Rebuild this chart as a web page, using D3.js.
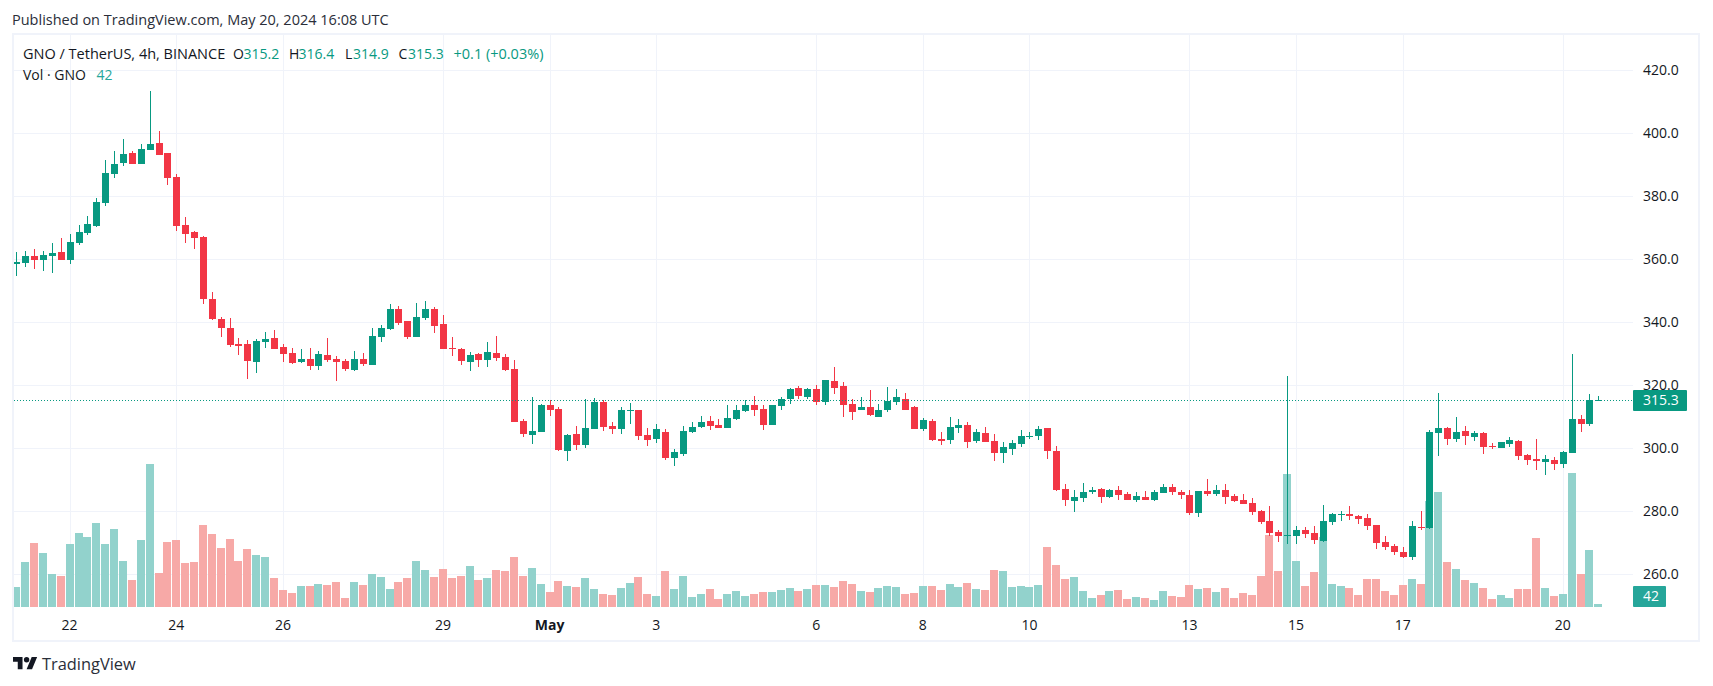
<!DOCTYPE html>
<html><head><meta charset="utf-8"><script src="https://cdn.jsdelivr.net/npm/d3@7/dist/d3.min.js"></script>
<style>html,body{margin:0;padding:0;background:#fff}svg{display:block}text{font-family:"Open Sans","Lato",sans-serif}</style></head>
<body><div id="c"></div>
<script>
const opens=[358.5,358.8,361.1,359.8,361.1,362.3,359.8,365.2,368.4,370.6,377.9,387.1,390.6,393.8,390.3,394.7,396.9,393.8,386.1,370.9,368.7,367.1,347.4,341.0,338.2,333.1,333.1,327.4,333.8,335,332.2,330.3,327.4,328.4,326.1,329.6,328.4,327.7,324.9,328.4,326.5,335.3,337.9,344.2,340.4,335.3,341.4,344.2,339.5,331.9,331.5,327.4,329.9,328,330.3,329,325.2,308.7,304.2,305.2,313.8,312.5,299.2,304.6,301.1,306.1,314.7,307.1,306.1,311.9,312.2,304.2,303,305.2,296.9,298.2,305.2,306.8,308.7,307.4,306.5,309.3,311.9,313.8,312.5,307.4,313.4,315.7,319.2,316.3,318.8,314.7,321.4,319.8,314.1,312,313,310,312,314.7,315.7,313,306.1,308.7,303,302.6,306.5,307.4,302.3,304.9,302.3,298.5,299.8,301.4,303.6,303.9,306.5,299,287.1,283.3,284.2,286.1,287.1,284.6,286.8,285.5,283.6,284.6,283.6,285.8,287.7,286.1,285.2,279.5,286.5,285.5,286.8,284.9,283.6,282.6,280.1,276.9,273.4,272.2,272.2,274.1,273.1,270.6,276.6,278.8,279.2,278.5,277.9,275.7,270.3,269,267.1,265.5,275,274.7,304.9,306.5,303,305.5,303.6,304.9,300.7,300.1,301.4,302.3,297.9,296.6,295.7,296.3,295,298.5,309.3,307.7,315.2];
const closes=[359.2,361.1,359.8,361.4,362,359.8,365.5,368.7,371.2,378.2,387.4,390.3,393.4,390.3,395,396.6,393.1,385.8,370.6,368,366.8,347.4,341.1,338,332.8,332.5,327.7,334.1,334.7,331.5,329.9,327.1,328.4,326.1,329.9,328,327.4,325.2,328.4,326.8,335.7,338.2,344.2,339.8,335.3,341.7,344.2,338.8,331.5,331.5,327.7,329.6,328,330.6,328.7,324.9,308.4,304.6,305.5,313.8,312.2,299.5,304.2,301.1,306.5,314.7,306.8,306.1,312.2,312.2,303.9,302.6,306.1,296.9,298.8,305.5,306.8,308.4,307.1,306.5,309.6,312.2,313.8,312.2,307.4,313.8,315.7,318.8,316.6,318.8,314.7,321.7,319.2,313.8,311.5,313,310.6,312.2,315,316.3,312,306.1,309,302.6,302.3,306.8,307.4,302,305.2,302,298.5,300.4,301.7,303.9,303.9,306.1,299.2,286.7,283.6,284.6,286.1,286.8,284.6,286.8,285.2,283.6,284.9,283.6,286.1,287.7,286.1,285.2,279.5,286.5,285.5,286.8,284.6,283.3,282.3,279.8,276.6,273.1,272.2,272.5,274.1,272.8,270.9,276.9,279.2,279.2,278.5,277.6,275.3,270,268.7,267.1,265.5,275.3,274.7,305.2,306.5,303,305.2,303.9,304.9,300.4,300.4,302,302.6,297.6,296.3,296,296.6,295,298.8,309.3,307.7,315.3,315.3];
const highs=[362.3,362.6,363.3,362.6,365.2,366.8,368,370.9,373.8,379.5,391.5,394.4,398.2,394.4,396.6,413.4,400.7,393.8,387.1,373.4,369,367.4,349.6,341.6,341.3,335,334.4,334.7,336.9,337.6,333.1,331.9,331.5,331.9,330.9,335,329.3,328.4,330.9,330.3,338.2,339.2,345.8,345.2,340.4,346.1,346.8,344.9,342.3,335.3,331.9,330.6,330.2,333.8,335.7,329.9,328,309.3,316.3,314.1,315.3,313.1,304.6,307.1,315.7,316,315.3,308.4,313.1,314.4,312.2,306.5,307.7,306.1,299.8,307.1,308.4,310.3,310.3,309.3,313.8,313.8,315.3,316.6,313.8,313.8,316.3,319.2,319.8,319.2,320.1,321.7,325.8,321,315.7,316.3,318.4,314.1,319.5,318.8,317.6,313.4,309.6,309.3,305,310,309.3,308.4,306.1,306.8,304.6,302,302.6,305.8,305.2,307.1,306.5,300.6,288.7,286.8,289,287.7,287.4,287.1,288,286.1,286.1,286.5,286.8,288.7,288.7,286.8,286.8,286.5,290.3,288.4,288.7,285.5,285.5,284.2,280.4,281.7,274.1,322.9,275.3,275,275.3,282,279.5,280.1,281.7,278.8,279.2,275.7,272.2,269.6,268.7,276.9,280.1,305.8,317.6,306.8,309.9,307.1,305.5,305.2,301.7,302,303.6,302.6,298.2,303,297.9,297.2,299.2,329.9,310.6,317.2,316.4];
const lows=[354.7,357.6,356.9,356.3,355.7,359.8,358.5,364.6,367.7,370.3,376.9,385.8,389.6,390.3,390.3,394.7,393.1,383.6,369,365.2,363.3,345.8,340.7,335.3,332.2,329.6,322,323.9,331.9,331.5,327.4,326.8,327.1,324.9,324.9,327.4,321.4,324.6,324.6,326.1,326.5,333.8,337.6,339.2,334.7,335.3,340.7,336.6,331.5,329.3,326.5,324.6,325.8,325.8,327.7,324.6,308.4,303.6,301.4,305.2,310.3,299.2,296,299.5,300.1,306.1,305.5,304.6,304.6,307.7,302.6,300.7,301.7,296.3,294.4,297.6,304.9,306.5,305.8,306.5,306.5,309,311.5,310.3,305.8,307.4,312.2,314.1,315.7,315.7,313.8,313.8,317.2,309.9,309,312,310.3,310,311.5,313.8,312,306.1,305.5,302.3,301,301.4,304.9,300.1,301.7,302,295.9,295.3,297.9,300.4,302.9,302.6,296.6,286.3,281.7,279.8,283,285.5,282.6,284.2,283.6,283.6,283,283.6,283.3,285.8,285.2,283.9,278.8,278.2,284.9,284.9,282.3,283,282.3,278.8,276,272.2,270.3,269.6,269.6,271.5,269.6,270.3,275.7,276.9,277.2,276,274.1,268,267.7,266.1,265.2,264.6,274.1,274.4,297.6,301.1,302,301.1,302.3,298.2,299.8,300.1,300.4,296.3,294.7,293.1,291.5,293.1,293.8,298.5,305.2,307.1,314.9];
const volumes=[280,630,896,756,462,434,882,1036,980,1176,882,1092,644,378,938,2002,476,910,938,616,630,1148,1022,826,952,644,812,728,700,406,238,196,294,294,322,308,350,126,350,308,462,420,252,350,406,644,518,420,532,406,434,574,378,406,518,504,700,434,546,322,210,364,294,280,406,252,182,168,266,336,420,182,154,504,252,434,140,182,252,112,182,224,154,182,210,210,238,266,224,252,308,308,280,364,322,224,210,266,294,280,182,196,294,294,238,322,280,336,252,238,518,504,280,294,280,308,840,588,392,420,224,126,168,224,238,112,140,126,98,224,154,140,308,252,266,210,266,126,196,168,434,1008,504,1862,644,294,490,980,322,294,266,168,392,392,224,168,308,392,322,1484,1610,630,532,378,336,266,112,168,126,252,252,966,266,154,182,1876,462,798,42];
const priceTicks=[420,400,380,360,340,320,300,280,260];
const dateTickIndex=[6,18,30,48,60,72,90,102,114,132,144,156,174];
const dateTickLabels=["22","24","26","29","May","3","6","8","10","13","15","17","20"];
const lastPrice=315.3, lastVolume=42;
const GREEN="#089981",RED="#f23645",GV="#92d2cc",RV="#f7a9a7",GRID="#f0f3fa",TXT="#131722",FRAME="#f0f3fa";

const W=1713,H=686;
const svg=d3.select("#c").append("svg").attr("width",W).attr("height",H).attr("viewBox",`0 0 ${W} ${H}`);
const x=d3.scaleLinear().domain([0,opens.length-1]).range([16.3,1598.3]);
const y=d3.scaleLinear().domain([260,420]).range([574,70]);
const yV=d3.scaleLinear().domain([0,2002]).range([607,464]);
const PL=14,PR=1633,PT=35,PB=607;
svg.append("defs").append("clipPath").attr("id","plot").append("rect").attr("x",PL).attr("y",PT).attr("width",PR-PL).attr("height",PB-PT);
const cx=i=>Math.round(x(i));
// grid
const grid=svg.append("g").attr("shape-rendering","crispEdges").attr("stroke",GRID);
grid.selectAll(".h").data(priceTicks).join("line").attr("x1",PL).attr("x2",PR).attr("y1",d=>Math.round(y(d))+.5).attr("y2",d=>Math.round(y(d))+.5);
grid.selectAll(".v").data(dateTickIndex).join("line").attr("y1",PT).attr("y2",PB).attr("x1",d=>cx(d)+.5).attr("x2",d=>cx(d)+.5);
const plot=svg.append("g").attr("clip-path","url(#plot)").attr("shape-rendering","crispEdges");
const idx=d3.range(opens.length);
const up=i=>closes[i]>=opens[i];
plot.selectAll(".vol").data(idx).join("rect").attr("x",i=>cx(i)-4).attr("width",8).attr("y",i=>Math.round(yV(volumes[i]))).attr("height",i=>607-Math.round(yV(volumes[i]))).attr("fill",i=>up(i)?GV:RV);
plot.selectAll(".wick").data(idx).join("rect").attr("x",i=>cx(i)).attr("width",1).attr("y",i=>Math.round(y(highs[i]))).attr("height",i=>Math.max(1,Math.round(y(lows[i]))-Math.round(y(highs[i])))).attr("fill",i=>up(i)?GREEN:RED);
plot.selectAll(".body").data(idx).join("rect").attr("x",i=>cx(i)-3).attr("width",7)
 .attr("y",i=>Math.round(y(Math.max(opens[i],closes[i]))))
 .attr("height",i=>Math.max(1,Math.round(y(Math.min(opens[i],closes[i])))-Math.round(y(Math.max(opens[i],closes[i])))))
 .attr("fill",i=>up(i)?GREEN:RED);
// last price dotted
svg.append("line").attr("x1",PL).attr("x2",PR).attr("y1",Math.round(y(lastPrice))+.5).attr("y2",Math.round(y(lastPrice))+.5).attr("stroke",GREEN).attr("stroke-width",1).attr("stroke-dasharray","1 2");
// frame
svg.append("rect").attr("x",13).attr("y",34).attr("width",1686).attr("height",607).attr("fill","none").attr("stroke",FRAME).attr("stroke-width",2).attr("shape-rendering","crispEdges");
// price axis
const axT=svg.append("g").attr("font-size",14).attr("fill",TXT);
axT.selectAll(".p").data(priceTicks).join("text").attr("x",1643).attr("y",d=>y(d)).attr("dy","0.35em").text(d=>d.toFixed(1));
// date axis
axT.selectAll(".d").data(dateTickIndex).join("text").attr("x",d=>x(d)).attr("y",625).attr("dy","0.35em").attr("text-anchor","middle").attr("font-weight",(d,i)=>dateTickLabels[i]==="May"?700:400).text((d,i)=>dateTickLabels[i]);
// tags
const tag=svg.append("g");
tag.append("rect").attr("x",1633).attr("y",Math.round(y(lastPrice))-10).attr("width",54).attr("height",21).attr("fill",GREEN).attr("rx",1);
tag.append("text").attr("x",1643).attr("y",y(lastPrice)).attr("dy","0.35em").attr("font-size",14).attr("font-weight",400).attr("fill","#fff").text(lastPrice.toFixed(1));
tag.append("rect").attr("x",1633).attr("y",586).attr("width",33).attr("height",21).attr("fill","#26a69a").attr("rx",1);
tag.append("text").attr("x",1643).attr("y",596.5).attr("dy","0.35em").attr("font-size",14).attr("fill","#fff").text(lastVolume);
// header
svg.append("text").attr("x",12).attr("y",20).attr("dy","0.35em").attr("font-size",14.5).attr("fill","#2a2e39").text("Published on TradingView.com, May 20, 2024 16:08 UTC");
// legend
const lg=svg.append("g").attr("font-size",14);
const L=(t,xp,yp,c)=>lg.append("text").attr("x",xp).attr("y",yp).attr("dy","0.35em").attr("fill",c).text(t);
L("GNO / TetherUS, 4h, BINANCE",23,54,TXT).attr("font-size",14.5);
L("O",233,54,TXT);L("315.2",243.5,54,GREEN);
L("H",289,54,TXT);L("316.4",298.5,54,GREEN);
L("L",345,54,TXT);L("314.9",353,54,GREEN);
L("C",398.4,54,TXT);L("315.3",408,54,GREEN);
L("+0.1 (+0.03%)",453.5,54,GREEN).attr("font-size",14.5);
L("Vol · GNO",23,74.7,TXT);L("42",96.4,74.7,"#26a69a");
// logo
const logo=svg.append("g").attr("transform","translate(13,654.3) scale(0.68)").attr("fill","#131722");
logo.append("path").attr("d","M14 22H7V11H0V4h14v18zM28 22h-8l7.5-18h8L28 22z");
logo.append("circle").attr("cx",20).attr("cy",8).attr("r",4);
svg.append("text").attr("x",42).attr("y",664).attr("dy","0.35em").attr("font-size",16.4).attr("fill","#2a2e39").text("TradingView");
</script></body></html>
